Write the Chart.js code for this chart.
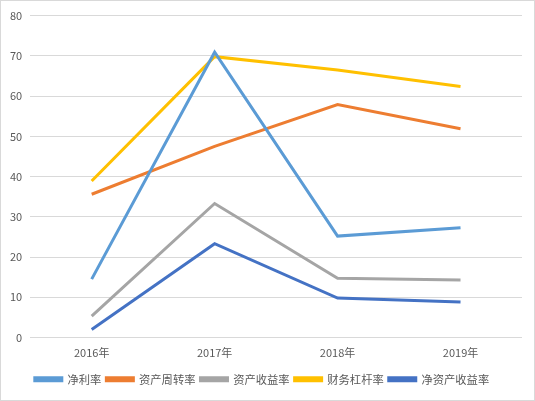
<!DOCTYPE html>
<html><head><meta charset="utf-8">
<script src="https://cdn.jsdelivr.net/npm/chart.js@4"></script>
<style>
html,body{margin:0;padding:0;background:#fff;}
#wrap{position:relative;width:533px;height:399px;border:1px solid #D9D9D9;}
canvas{display:block;}
</style></head><body>
<div id="wrap"><canvas id="c" width="533" height="399"></canvas></div>
<script>
const categories = ["2016年","2017年","2018年","2019年"];
const netMargin = [14.5, 70.9, 25.2, 27.3];
const assetTurnover = [35.6, 47.5, 57.9, 51.9];
const assetReturn = [5.3, 33.3, 14.7, 14.3];
const leverage = [38.9, 69.8, 66.5, 62.4];
const roe = [2.0, 23.3, 9.8, 8.8];
const seriesNames = ["净利率","资产周转率","资产收益率","财务杠杆率","净资产收益率"];
const colors = ["#5B9BD5","#ED7D31","#A5A5A5","#FFC000","#4472C4"];
const yTicks = [0,10,20,30,40,50,60,70,80];

const allSeries = [netMargin, assetTurnover, assetReturn, leverage, roe];
const datasets = allSeries.map((d,i)=>({
  label: seriesNames[i], data: d, borderColor: colors[i], backgroundColor: colors[i],
  borderWidth: 3, pointRadius: 0, tension: 0, fill: false
}));

Chart.defaults.font.family = "'Noto Sans CJK SC', 'DejaVu Sans', sans-serif";
new Chart(document.getElementById('c'), {
  type: 'line',
  data: { labels: categories, datasets },
  options: {
    responsive: false, animation: false,
    layout: { padding: { left: 1, right: 12, top: 8, bottom: 5 } },
    plugins: {
      legend: { position: 'bottom',
        labels: { boxWidth: 27, boxHeight: 3, color: '#595959', padding: 5, font: { size: 11.3 } } },
      tooltip: { enabled: false }
    },
    scales: {
      x: { offset: true, grid: { display: false, drawTicks: false }, border: { display: false },
        ticks: { color: '#595959', font: { size: 11 }, padding: 9 } },
      y: { min: 0, max: 80, afterBuildTicks: ax => { ax.ticks = yTicks.map(v=>({value:v})); },
        grid: { color: '#D9D9D9', drawTicks: false }, border: { display: false },
        ticks: { color: '#595959', font: { size: 11 }, padding: 8 } }
    }
  }
});
</script>
</body></html>
